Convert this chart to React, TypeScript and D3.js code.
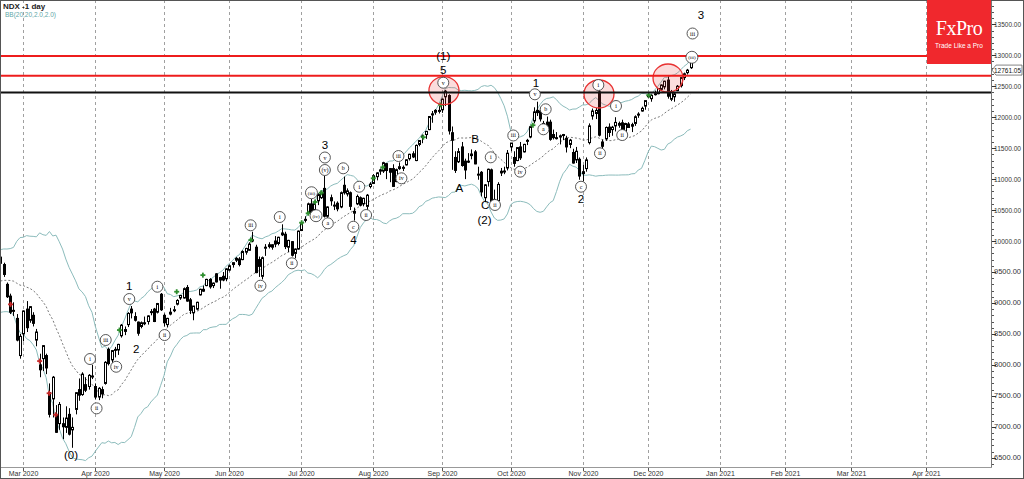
import React from 'react';
import * as d3 from 'd3';

const W = 1024;
const H = 479;
const PLOT_R = 991;
const PLOT_B = 467;

const holidays = ['2020-04-10', '2020-05-25', '2020-07-03', '2020-09-07', '2020-11-26', '2020-12-25', '2021-01-01'];

// Daily OHLC, 2020-02-20 .. 2020-12-18 (trading days)
const openP = [
  9740, 9620, 9300, 9110, 8870, 8750, 8150,
  8500, 8900, 8720, 8800, 8400, 8000, 8100, 8150, 7550, 7450, 7200, 7050, 7050, 6990, 7200, 6950, 7280, 7600, 7520, 7680, 7650, 7820,
  7650, 7480, 7600, 7700, 8250, 8080, 8250, 8240, 8470, 8540, 8650, 8900, 8780, 8690, 8620, 8680, 8700, 8850, 8900, 8850, 9140,
  8800, 8650, 8820, 8880, 8980, 9080, 9080, 9250, 9050, 8840, 8900, 9130, 9220, 9280, 9380, 9280, 9470, 9370, 9430, 9390,
  9530, 9620, 9690, 9710, 9700, 9820, 9850, 10000, 9900, 9700, 9430, 9900, 9940, 9900, 10000, 9960, 10100, 10110, 9900, 9990, 9800, 9870,
  10170, 10350, 10450, 10600, 10500, 10650, 10700, 10850, 10400, 10700, 10580, 10610, 10550, 10900, 10760, 10780, 10450, 10600, 10700, 10600, 10560, 10880,
  10930, 11040, 11130, 11130, 11250, 11170, 11170, 10960, 11170, 11190, 11230, 11330, 11410, 11300, 11560, 11690, 11720, 11800, 12050, 12080, 12110,
  12120, 12330, 12350, 11750, 11350, 11280, 11520, 11290, 11290, 11380, 11440, 11080, 11110, 10700, 10960, 11150, 10580, 10650, 11100, 11120, 11180,
  11520, 11350, 11300, 11520, 11440, 11620, 11680, 11940, 12110, 12100, 11800, 11920, 11920, 11720, 11670, 11680, 11720, 11660, 11560, 11430, 11310, 11320,
  11120, 11170, 11590, 12020, 12060, 12410, 11600, 11650, 11840, 11800, 11860, 11870, 11910, 11750, 11890, 11880, 11900, 12050, 12100, 12180,
  12330, 12300, 12380, 12380, 12450, 12490, 12600, 12290, 12330, 12430, 12510, 12640, 12720, 12800,
];
const highP = [
  9790, 9650, 9330, 9150, 9010, 8820, 8500,
  8880, 9030, 8950, 8850, 8580, 8180, 8320, 8180, 7700, 7820, 7350, 7400, 7150, 7330, 7300, 7150, 7560, 7780, 7880, 7800, 7850, 8000,
  7700, 7640, 7650, 8060, 8280, 8240, 8290, 8340, 8660, 8620, 8850, 8950, 8850, 8700, 8700, 8780, 8800, 8900, 8920, 9000, 9160,
  8830, 8760, 8920, 8950, 9060, 9130, 9250, 9290, 9080, 8950, 9020, 9230, 9280, 9390, 9400, 9330, 9480, 9420, 9500, 9560,
  9620, 9660, 9740, 9740, 9850, 9890, 9980, 10150, 9940, 9750, 9750, 9950, 9980, 9950, 10080, 10070, 10270, 10150, 10020, 10000, 9880, 10170,
  10300, 10400, 10620, 10680, 10610, 10770, 10800, 11050, 10560, 10750, 10640, 10640, 10800, 11040, 10850, 10800, 10540, 10750, 10720, 10700, 10760, 10950,
  11080, 11110, 11170, 11280, 11260, 11180, 11240, 11170, 11270, 11220, 11320, 11410, 11450, 11560, 11630, 11720, 11780, 12020, 12100, 12130, 12180,
  12300, 12440, 12370, 11850, 11450, 11500, 11600, 11330, 11420, 11480, 11470, 11200, 11130, 10920, 11170, 11170, 10830, 10950, 11180, 11200, 11470,
  11580, 11450, 11510, 11600, 11570, 11650, 11850, 12160, 12250, 12160, 11940, 12010, 11960, 11800, 11760, 11720, 11730, 11700, 11650, 11490, 11520, 11350,
  11230, 11350, 11900, 12140, 12150, 12440, 11640, 11850, 11900, 11860, 12000, 11930, 11960, 11910, 11920, 11910, 12030, 12080, 12170, 12270,
  12400, 12370, 12430, 12470, 12530, 12590, 12660, 12440, 12400, 12520, 12650, 12720, 12780, 12960,
];
const lowP = [
  9600, 9420, 9080, 8820, 8790, 8380, 8100,
  8380, 8530, 8680, 8620, 8300, 7800, 7900, 7850, 7150, 7150, 6900, 6950, 6800, 6900, 6860, 6660, 7200, 7420, 7500, 7560, 7600, 7770,
  7440, 7430, 7460, 7680, 7990, 8030, 8120, 8160, 8440, 8480, 8610, 8750, 8700, 8470, 8590, 8640, 8650, 8800, 8690, 8830, 8870,
  8620, 8610, 8800, 8850, 8960, 9050, 9070, 9020, 8820, 8720, 8880, 9120, 9180, 9270, 9230, 9240, 9330, 9230, 9350, 9350,
  9510, 9570, 9660, 9590, 9690, 9780, 9840, 9980, 9480, 9420, 9380, 9760, 9880, 9860, 9900, 9930, 10080, 9870, 9820, 9750, 9720, 9860,
  10160, 10300, 10430, 10430, 10470, 10580, 10680, 10380, 10350, 10570, 10500, 10480, 10530, 10750, 10720, 10500, 10330, 10580, 10560, 10560, 10500, 10850,
  10920, 10980, 11070, 11100, 11000, 10950, 10880, 10950, 11150, 11130, 11220, 11300, 11340, 11290, 11530, 11580, 11650, 11790, 11910, 12040, 12060,
  12070, 12180, 11720, 11150, 11100, 11260, 11200, 11000, 11260, 11320, 11240, 10990, 10720, 10630, 10880, 10610, 10650, 10610, 11050, 11080, 11140,
  11450, 11200, 11290, 11310, 11430, 11550, 11660, 11900, 12020, 11930, 11760, 11840, 11620, 11640, 11640, 11560, 11630, 11430, 11500, 11250, 11260, 10990,
  10970, 11120, 11560, 11960, 11970, 11690, 11400, 11620, 11680, 11700, 11770, 11830, 11780, 11720, 11830, 11760, 11860, 11990, 12090, 12120,
  12310, 12250, 12350, 12370, 12430, 12450, 12300, 12260, 12250, 12420, 12480, 12600, 12690, 12780,
];
const closeP = [
  9640, 9460, 9100, 8850, 8880, 8400, 8460,
  8870, 8600, 8940, 8670, 8530, 7920, 8310, 7950, 7200, 7800, 6910, 7360, 7000, 7140, 6880, 6990, 7550, 7510, 7850, 7590, 7830, 7810,
  7480, 7620, 7530, 8040, 8020, 8230, 8240, 8330, 8640, 8570, 8830, 8840, 8720, 8510, 8680, 8670, 8790, 8860, 8700, 8990, 8890,
  8680, 8750, 8850, 8890, 9040, 9120, 9230, 9030, 8880, 8950, 9010, 9220, 9190, 9380, 9260, 9320, 9340, 9410, 9370, 9550,
  9600, 9650, 9720, 9620, 9830, 9880, 9950, 10020, 9490, 9590, 9730, 9900, 9910, 9940, 9950, 10060, 10130, 9910, 10010, 9770, 9870, 10160,
  10280, 10340, 10600, 10440, 10600, 10750, 10790, 10400, 10550, 10650, 10570, 10520, 10780, 10780, 10810, 10560, 10480, 10720, 10580, 10690, 10740, 10920,
  11055, 11100, 11149, 11265, 11139, 11111, 10882, 11152, 11200, 11179, 11312, 11401, 11358, 11544, 11623, 11696, 11771, 12011, 12054, 12110, 12110,
  12292, 12420, 11779, 11628, 11141, 11445, 11220, 11148, 11277, 11405, 11246, 11080, 10793, 10907, 11159, 10632, 10672, 10914, 11127, 11131, 11418,
  11583, 11254, 11509, 11344, 11561, 11626, 11846, 12086, 12074, 11973, 11899, 11842, 11642, 11670, 11666, 11699, 11718, 11520, 11630, 11260, 11450, 11050,
  11090, 11310, 11860, 12100, 12110, 11710, 11530, 11834, 11753, 11838, 11916, 11900, 11786, 11898, 11834, 11855, 12007, 12046, 12143, 12268,
  12355, 12354, 12377, 12464, 12520, 12582, 12339, 12415, 12377, 12500, 12640, 12700, 12760, 12940,
];
// closes before the first visible bar, for the Bollinger warm-up (2020-01-22 .. 2020-02-19)
const warmupClose = [9220, 9250, 9090, 8900, 9080, 9070, 9100, 8990, 9120, 9330, 9370, 9450, 9400, 9520, 9530, 9620, 9610, 9630, 9660, 9720];

const priceTicks = d3.range(6500, 13501, 500);
const redLevels = [12990, 12670];
const blackLevel = 12400;
const lastPrice = 12761.05;

const waveText = [
  { t: '(0)', bar: 21.6, p: 6540 },
  { t: '1', bar: 39.4, p: 9273 },
  { t: '2', bar: 41.5, p: 8255 },
  { t: '3', bar: 99.2, p: 11546 },
  { t: '4', bar: 107.9, p: 10016 },
  { t: '(1)', bar: 135.4, p: 12985 },
  { t: '5', bar: 135.4, p: 12755 },
  { t: 'A', bar: 140.3, p: 10851 },
  { t: 'B', bar: 145.1, p: 11648 },
  { t: 'C', bar: 148.2, p: 10582 },
  { t: '(2)', bar: 148, p: 10340 },
  { t: '1', bar: 163.7, p: 12548 },
  { t: '2', bar: 177.5, p: 10674 },
  { t: '3', bar: 214.2, p: 13646 },
];

const waveCircle = [
  { t: 'i', bar: 27.4, p: 8094 },
  { t: 'ii', bar: 29.4, p: 7297 },
  { t: 'iii', bar: 32.2, p: 8401 },
  { t: 'iv', bar: 35.4, p: 7969 },
  { t: 'v', bar: 39.4, p: 9063 },
  { t: 'i', bar: 48, p: 9262 },
  { t: 'ii', bar: 50.2, p: 8481 },
  { t: 'iii', bar: 76.5, p: 10254 },
  { t: 'iv', bar: 79.5, p: 9278 },
  { t: 'i', bar: 85.4, p: 10388 },
  { t: 'ii', bar: 89.1, p: 9640 },
  { t: '(iii)', bar: 95.1, p: 10780 },
  { t: '(iv)', bar: 96.5, p: 10409 },
  { t: 'v', bar: 99.2, p: 11349 },
  { t: '(v)', bar: 99.2, p: 11147 },
  { t: 'a', bar: 100.1, p: 10286 },
  { t: 'b', bar: 104.8, p: 11175 },
  { t: 'c', bar: 107.9, p: 10231 },
  { t: 'i', bar: 109.7, p: 10877 },
  { t: 'ii', bar: 111.8, p: 10420 },
  { t: 'iii', bar: 121.7, p: 11373 },
  { t: 'iv', bar: 122.6, p: 11013 },
  { t: 'v', bar: 135.4, p: 12557 },
  { t: 'i', bar: 149.9, p: 11352 },
  { t: 'ii', bar: 151.2, p: 10582 },
  { t: 'iii', bar: 156.8, p: 11705 },
  { t: 'iv', bar: 158.9, p: 11120 },
  { t: 'v', bar: 163.4, p: 12370 },
  { t: 'b', bar: 166.7, p: 12128 },
  { t: 'a', bar: 166, p: 11805 },
  { t: 'c', bar: 177.5, p: 10877 },
  { t: 'i', bar: 182.8, p: 12520 },
  { t: 'ii', bar: 183.3, p: 11417 },
  { t: 'i', bar: 188.2, p: 12181 },
  { t: 'ii', bar: 190.1, p: 11712 },
  { t: '(iii)', bar: 211.4, p: 12968 },
  { t: 'iii', bar: 211.6, p: 13352 },
];

const zones = [
  { bar: 135.6, p: 12431 },
  { bar: 183, p: 12375 },
  { bar: 204.1, p: 12633 },
];

const buySignals = [
  { bar: 36.4, p: 8562 }, { bar: 53.9, p: 9181 }, { bar: 61.9, p: 9449 }, { bar: 76.6, p: 10016 },
  { bar: 92.1, p: 10296 }, { bar: 94.1, p: 10448 }, { bar: 96.2, p: 10630 }, { bar: 98.1, p: 10780 },
  { bar: 114, p: 11013 }, { bar: 116.9, p: 11191 }, { bar: 129.3, p: 11677 }, { bar: 134.6, p: 12199 },
  { bar: 162.8, p: 11871 }, { bar: 198.2, p: 12354 },
];
const sellSignals = [
  { bar: 3.1, p: 8977 }, { bar: 12, p: 8061 }, { bar: 14.9, p: 7541 }, { bar: 16.9, p: 7194 },
];

function buildDays(): Date[] {
  const out: Date[] = [];
  const hol = new Set(holidays);
  const d = new Date(Date.UTC(2020, 1, 20));
  const end = Date.UTC(2021, 3, 30);
  while (d.getTime() <= end) {
    const wd = d.getUTCDay();
    const iso = d.toISOString().slice(0, 10);
    if (wd !== 0 && wd !== 6 && !hol.has(iso)) out.push(new Date(d.getTime()));
    d.setUTCDate(d.getUTCDate() + 1);
  }
  return out;
}

const days = buildDays();
const fmtMonth = d3.utcFormat('%b %Y');
const monthTicks: { i: number; label: string }[] = [];
days.forEach((d, i) => {
  if (i > 0 && d.getUTCMonth() !== days[i - 1].getUTCMonth()) monthTicks.push({ i, label: fmtMonth(d) });
});

const n = closeP.length;
const x = d3.scaleLinear().domain([0, n - 1]).range([0.4, 0.4 + (n - 1) * 3.271]);
const y = d3.scaleLinear().domain([6500, 13000]).range([457.7, 55.3]);

const allClose = warmupClose.concat(closeP);
const bands = closeP.map((_, i) => {
  const j = i + warmupClose.length;
  const win = allClose.slice(j - 19, j + 1);
  const m = d3.mean(win) as number;
  const sd = Math.sqrt(d3.mean(win.map((v) => (v - m) * (v - m))) as number);
  return { i, m, u: m + 2 * sd, l: m - 2 * sd };
});

const lineOf = (key: 'm' | 'u' | 'l') =>
  d3.line<{ i: number; m: number; u: number; l: number }>().x((d) => x(d.i)).y((d) => y(d[key]))(bands) || '';

const minorTicks = d3.range(6400, 13900, 100);

export default function App() {
  const font = 'Liberation Sans, Arial, sans-serif';
  return (
    <div style={{ position: 'absolute', left: 0, top: 0, width: W, height: H }}>
      <svg width={W} height={H} style={{ display: 'block', background: '#fff' }}>
        <defs>
          <clipPath id="plot">
            <rect x={0} y={0} width={PLOT_R} height={PLOT_B} />
          </clipPath>
        </defs>
        <rect x={0} y={0} width={W} height={H} fill="#fff" />
        {/* month grid */}
        {monthTicks.map((t) => {
          const xx = Math.round(x(t.i)) + 0.5;
          return (
            <g key={'g' + t.i}>
              <line x1={xx} x2={xx} y1={0} y2={PLOT_B} stroke="#a0a0a0" strokeWidth={1} strokeDasharray="3,3" />
              <line x1={xx} x2={xx} y1={PLOT_B} y2={PLOT_B + 4} stroke="#555" strokeWidth={1} />
              <text x={xx} y={475.5} fontSize={7} fontFamily={font} fill="#333" textAnchor="middle">{t.label}</text>
            </g>
          );
        })}
        <g clipPath="url(#plot)">
          <path d={lineOf('u')} fill="none" stroke="#8cbcbc" strokeWidth={1} />
          <path d={lineOf('l')} fill="none" stroke="#8cbcbc" strokeWidth={1} />
          <path d={lineOf('m')} fill="none" stroke="#555" strokeWidth={0.8} strokeDasharray="2,2" />
          {closeP.map((c, i) => {
            const o = openP[i];
            const xr = Math.round(x(i));
            const yt = y(Math.max(o, c));
            const yb = y(Math.min(o, c));
            const hgt = Math.max(1, yb - yt);
            const bull = c >= o;
            return (
              <g key={'c' + i}>
                <line x1={xr + 0.5} x2={xr + 0.5} y1={y(highP[i])} y2={y(lowP[i])} stroke="#000" strokeWidth={1} />
                {bull ? (
                  <rect x={xr - 0.5} y={yt} width={2} height={hgt} fill="#fff" stroke="#000" strokeWidth={1} />
                ) : (
                  <rect x={xr - 1} y={yt - 0.5} width={3} height={hgt + 1} fill="#000" />
                )}
              </g>
            );
          })}
          {buySignals.map((s, k) => (
            <g key={'b' + k} transform={`translate(${x(s.bar)},${y(s.p)})`}>
              <line x1={-2.5} x2={2.5} y1={0} y2={0} stroke="#2f8f2f" strokeWidth={1.8} />
              <line x1={0} x2={0} y1={-2.5} y2={2.5} stroke="#2f8f2f" strokeWidth={1.8} />
            </g>
          ))}
          {sellSignals.map((s, k) => (
            <g key={'s' + k} transform={`translate(${x(s.bar)},${y(s.p)})`}>
              <line x1={-2.5} x2={2.5} y1={0} y2={0} stroke="#c82828" strokeWidth={1.8} />
              <line x1={0} x2={0} y1={-2.5} y2={2.5} stroke="#c82828" strokeWidth={1.8} />
            </g>
          ))}
          {zones.map((z, k) => (
            <ellipse key={'z' + k} cx={x(z.bar)} cy={y(z.p)} rx={15} ry={14} fill="rgba(235,60,60,0.18)" stroke="#e83030" strokeWidth={1.3} />
          ))}
          {redLevels.map((lv) => (
            <line key={'r' + lv} x1={0} x2={PLOT_R} y1={y(lv)} y2={y(lv)} stroke="#ee1c1c" strokeWidth={2} />
          ))}
          <line x1={0} x2={PLOT_R} y1={y(blackLevel)} y2={y(blackLevel)} stroke="#111" strokeWidth={2} />
          {waveCircle.map((w, k) => {
            const wide = w.t.length > 3;
            return (
              <g key={'w' + k} transform={`translate(${x(w.bar)},${y(w.p)})`}>
                <circle r={wide ? 6 : 5.5} fill="#fff" stroke="#444" strokeWidth={0.9} />
                <text y={2} fontSize={wide ? 5 : 6} fontFamily="Liberation Serif, Times New Roman, serif" textAnchor="middle" fill="#000">{w.t}</text>
              </g>
            );
          })}
          {waveText.map((w, k) => (
            <text key={'t' + k} x={x(w.bar)} y={y(w.p) + 4} fontSize={11.5} fontFamily={font} textAnchor="middle" fill="#000">{w.t}</text>
          ))}
        </g>
        {/* frame */}
        <line x1={PLOT_R + 0.5} x2={PLOT_R + 0.5} y1={0} y2={PLOT_B} stroke="#777" strokeWidth={1} />
        <line x1={0} x2={PLOT_R + 1} y1={PLOT_B + 0.5} y2={PLOT_B + 0.5} stroke="#999" strokeWidth={1} />
        <rect x={0.5} y={0.5} width={W - 1} height={H - 1} fill="none" stroke="#555" strokeWidth={1} />
        {/* right axis */}
        {minorTicks.map((v) => (
          <line key={'m' + v} x1={PLOT_R + 1} x2={PLOT_R + 3} y1={Math.round(y(v)) + 0.5} y2={Math.round(y(v)) + 0.5} stroke="#555" strokeWidth={1} />
        ))}
        {priceTicks.map((v) => (
          <g key={'p' + v}>
            <line x1={PLOT_R + 1} x2={PLOT_R + 5} y1={Math.round(y(v)) + 0.5} y2={Math.round(y(v)) + 0.5} stroke="#333" strokeWidth={1} />
            <text x={994} y={y(v) + 2.5} fontSize={7} fontFamily={font} fill="#333" textLength={27} lengthAdjust="spacingAndGlyphs">{d3.format('.2f')(v)}</text>
          </g>
        ))}
        {/* current price label */}
        <g>
          <path d={`M${PLOT_R + 1},${y(lastPrice)} L${PLOT_R + 5},${y(lastPrice) - 5} L1022,${y(lastPrice) - 5} L1022,${y(lastPrice) + 5} L${PLOT_R + 5},${y(lastPrice) + 5} Z`} fill="#fff" stroke="#666" strokeWidth={0.8} />
          <text x={994} y={y(lastPrice) + 2.5} fontSize={7} fontFamily={font} fill="#111" textLength={27} lengthAdjust="spacingAndGlyphs">{d3.format('.2f')(lastPrice)}</text>
        </g>
        {/* title */}
        <text x={3} y={9} fontSize={8} fontWeight="bold" fontFamily={font} fill="#222">NDX -1 day</text>
        <text x={5} y={17} fontSize={6.5} fontFamily={font} fill="#5fa8a8">BB(20,20,2.0,2.0)</text>
        {/* logo */}
        <rect x={927} y={0} width={64} height={64} fill="#f0282d" />
        <text x={959} y={35} fontSize={20} fontFamily="Liberation Serif, Times New Roman, serif" fill="#fff" textAnchor="middle" letterSpacing={-0.5}>FxPro</text>
        <text x={959} y={48} fontSize={6.5} fontFamily={font} fill="#fff" textAnchor="middle">Trade Like a Pro</text>
      </svg>
    </div>
  );
}
